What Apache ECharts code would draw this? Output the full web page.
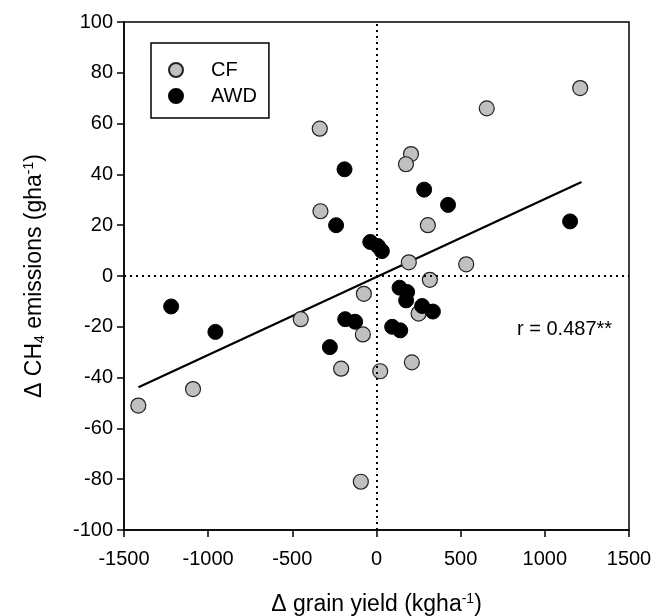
<!DOCTYPE html>
<html>
<head>
<meta charset="utf-8">
<script src="https://cdn.jsdelivr.net/npm/echarts@6/dist/echarts.min.js"></script>
<style>html,body{margin:0;padding:0;background:#fff}#c{width:655px;height:616px}</style>
</head>
<body>
<div id="c"></div>
<script>
const cfX = [-337, -333, 1210, 655, 205, 175, 305, 192, 533, 317, -450, -75, -81, -210, 22, -1090, -1415, -93, 250, 210];
const cfY = [58, 25.5, 74, 66, 48, 44, 20, 5.4, 4.6, -1.5, -17, -7, -23, -36.5, -37.5, -44.5, -51, -81, -14.8, -34];
const awdX = [-190, -240, -37, 8, 32, 283, 425, 1150, -1220, -957, -186, -127, -277, 137, 182, 176, 271, 335, 93, 141];
const awdY = [42, 20, 13.4, 11.8, 9.8, 34, 28, 21.5, -12, -22, -17, -18, -28, -4.6, -6.3, -9.6, -11.8, -14, -20, -21.4];
const fitX = [-1414, 1218];
const fitY = [-43.8, 37];
const xTicks = [-1500, 1500, 500];
const yTicks = [-100, 100, 20];
const rText = 'r = 0.487**';

const zip = (a, b) => a.map((v, i) => [v, b[i]]);
const font = 'Liberation Sans, Arial, sans-serif';
const chart = echarts.init(document.getElementById('c'));
chart.setOption({
  animation: false,
  textStyle: { fontFamily: font },
  grid: { left: 124, right: 26, top: 22, bottom: 86, show: true, borderColor: '#000', borderWidth: 1.5, outerBoundsMode: 'none', containLabel: false },
  legend: {
    left: 151, top: 43, orient: 'vertical',
    padding: [17, 12, 12, 17], itemGap: 6, itemWidth: 30, itemHeight: 14,
    borderColor: '#000', borderWidth: 1.5,
    textStyle: { fontSize: 20, color: '#000', fontFamily: font, padding: [0, 0, 0, 15] },
    data: ['CF', 'AWD']
  },
  xAxis: {
    type: 'value', min: xTicks[0], max: xTicks[1], interval: xTicks[2],
    name: '{a|Δ grain yield (kgha}{s|-1}{a|)}', nameLocation: 'middle', nameGap: 62,
    nameTextStyle: { rich: { a: { fontSize: 23, color: '#000', fontFamily: font }, s: { fontSize: 14, color: '#000', fontFamily: font, padding: [0, 0, 11, 0] } } },
    axisLine: { onZero: false, lineStyle: { color: '#000', width: 1.5 } },
    axisTick: { inside: false, length: 7, lineStyle: { color: '#000', width: 1.5 } },
    axisLabel: { fontSize: 20, color: '#000', margin: 19, fontFamily: font, formatter: v => String(v) },
    splitLine: { show: false }
  },
  yAxis: {
    type: 'value', min: yTicks[0], max: yTicks[1], interval: yTicks[2],
    name: '{a|Δ CH}{b|4}{a| emissions (gha}{s|-1}{a|)}', nameLocation: 'middle', nameGap: 77, nameRotate: 90,
    nameTextStyle: { rich: { a: { fontSize: 23, color: '#000', fontFamily: font }, b: { fontSize: 14, color: '#000', fontFamily: font, padding: [11, 0, 0, 0] }, s: { fontSize: 14, color: '#000', fontFamily: font, padding: [0, 0, 11, 0] } } },
    axisLine: { onZero: false, lineStyle: { color: '#000', width: 1.5 } },
    axisTick: { inside: false, length: 7, lineStyle: { color: '#000', width: 1.5 } },
    axisLabel: { fontSize: 20, color: '#000', margin: 11, fontFamily: font },
    splitLine: { show: false }
  },
  series: [
    {
      name: 'fit', type: 'line', data: zip(fitX, fitY), symbol: 'none', silent: true,
      lineStyle: { color: '#000', width: 2.2 }, z: 3,
      markLine: {
        silent: true, symbol: 'none', label: { show: false },
        lineStyle: { color: '#000', width: 2, type: [2, 4] },
        data: [{ xAxis: 0 }, { yAxis: 0 }]
      }
    },
    {
      name: 'CF', type: 'scatter', data: zip(cfX, cfY), symbolSize: 15, z: 4,
      itemStyle: { color: '#c0c0c0', borderColor: '#222', borderWidth: 1.2, opacity: 1 }
    },
    {
      name: 'AWD', type: 'scatter', data: zip(awdX, awdY), symbolSize: 15, z: 5,
      itemStyle: { color: '#000', borderColor: '#000', borderWidth: 1, opacity: 1 }
    }
  ],
  graphic: [{
    type: 'text', left: 517, top: 319,
    style: { text: rText, fontSize: 20, fill: '#000', fontFamily: font }
  }]
});
</script>
</body>
</html>
